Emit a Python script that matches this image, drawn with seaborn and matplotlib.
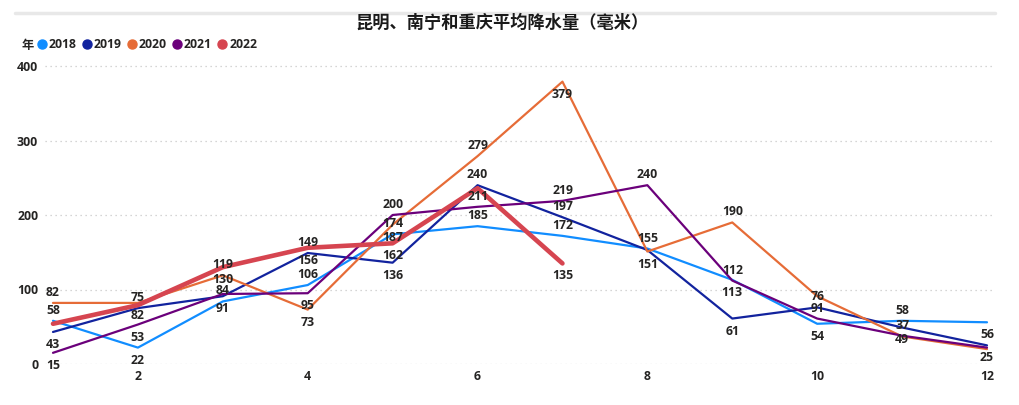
import matplotlib
matplotlib.use("Agg")
import matplotlib.pyplot as plt
import seaborn as sns
import pandas as pd
from matplotlib.lines import Line2D

# ---- data ----
months = list(range(1, 13))
years = ["2018", "2019", "2020", "2021", "2022"]
rain_2018 = [58, 22, 84, 106, 174, 185, 172, 155, 113, 54, 58, 56]
rain_2019 = [43, 75, 91, 149, 136, 240, 197, 153, 61, 76, 49, 25]
rain_2020 = [82, 82, 119, 73, 187, 279, 379, 151, 190, 91, 37, 20]
rain_2021 = [15, 53, 94, 95, 200, 211, 219, 240, 112, 61, 38, 22]
rain_2022 = [54, 79, 130, 156, 162, 236, 135]
title = "昆明、南宁和重庆平均降水量（毫米）"
legend_title = "年"
y_ticks = [0, 100, 200, 300, 400]
x_ticks = [2, 4, 6, 8, 10, 12]

# ---- style (label placement: a=above, b=below, -=hidden) ----
label_pos = {
    "2018": "abaaaaaabbab",
    "2019": "bababaa-babb",
    "2020": "ababbabbaba-",
    "2021": "bb-baaaaa---",
    "2022": "--bbb-b",
}
colors = {"2018": "#118DFF", "2019": "#12239E", "2020": "#E66C37",
          "2021": "#6B007B", "2022": "#D64550"}
widths = {"2018": 1.6, "2019": 1.6, "2020": 1.6, "2021": 1.6, "2022": 3.3}

series = dict(zip(years, [rain_2018, rain_2019, rain_2020, rain_2021, rain_2022]))
rows = []
for y in years:
    for m, v in zip(months, series[y]):
        rows.append({"月": m, "降水量": v, "年": y})
df = pd.DataFrame(rows)

sns.set_theme(style="white")
plt.rcParams["font.family"] = ["Open Sans", "Noto Sans CJK SC", "DejaVu Sans"]

fig = plt.figure(figsize=(10.2, 4.05), dpi=100)
ax = fig.add_axes([45 / 1020, (405 - 364) / 405, 950 / 1020, 304 / 405])

sns.lineplot(data=df, x="月", y="降水量", hue="年", hue_order=years,
             palette=colors, size="年", sizes=widths, size_order=years,
             legend=False, ax=ax, estimator=None, sort=True)
for ln in ax.lines:
    ln.set_solid_joinstyle("round")
    ln.set_solid_capstyle("round")

px = 84.9
ax.set_xlim(1 - 8 / px, 12 + 8 / px)
ax.set_ylim(0, 304 / 0.745)

for yt in y_ticks:
    ax.axhline(yt, color="#C8C8C8", lw=0.9, ls=(0, (1, 3)), zorder=0)

ax.set_xticks(x_ticks)
ax.set_yticks(y_ticks)
ax.set_xticklabels([str(t) for t in x_ticks])
ax.set_yticklabels([str(t) for t in y_ticks])
ax.tick_params(axis="both", length=0, labelsize=8.8, colors="#252423")
ax.tick_params(axis="y", pad=5)
ax.tick_params(axis="x", pad=4)
for t in ax.get_xticklabels() + ax.get_yticklabels():
    t.set_fontweight("bold")
ax.set_xlabel("")
ax.set_ylabel("")
for s in ax.spines.values():
    s.set_visible(False)

# data labels
for y in years:
    for m, v, p in zip(months, series[y], label_pos[y]):
        if p == "-":
            continue
        off = 10.5 if p == "a" else -12.5
        ax.annotate(str(v), (m, v), xytext=(0, off), textcoords="offset pixels",
                    ha="center", va="center", fontsize=8.8, fontweight="bold",
                    color="#252423", annotation_clip=False)

# title and top bar
fig.add_artist(Line2D([15 / 1020, 995 / 1020], [1 - 12.5 / 405, 1 - 12.5 / 405],
                      transform=fig.transFigure, color="#E8E8E8", lw=2.5))
fig.text(502 / 1020, 1 - 23 / 405, title, ha="center", va="center",
         fontsize=12.4, fontweight="bold", color="#1a1a1a")

# legend
fig.text(22 / 1020, 1 - 45 / 405, legend_title, ha="left", va="center",
         fontsize=8.8, fontweight="bold", color="#252423")
handles = [Line2D([], [], marker="o", ls="", color=colors[y], markersize=6.5) for y in years]
leg = fig.legend(handles, years, loc="center left",
                 bbox_to_anchor=(38.5 / 1020, 1 - 45 / 405), ncol=5, frameon=False,
                 handlelength=0.6, handletextpad=0.25, columnspacing=0.55,
                 borderpad=0, borderaxespad=0,
                 prop={"size": 8.8, "weight": "bold"})
for t in leg.get_texts():
    t.set_color("#252423")

fig.savefig("out.png", dpi=100)
